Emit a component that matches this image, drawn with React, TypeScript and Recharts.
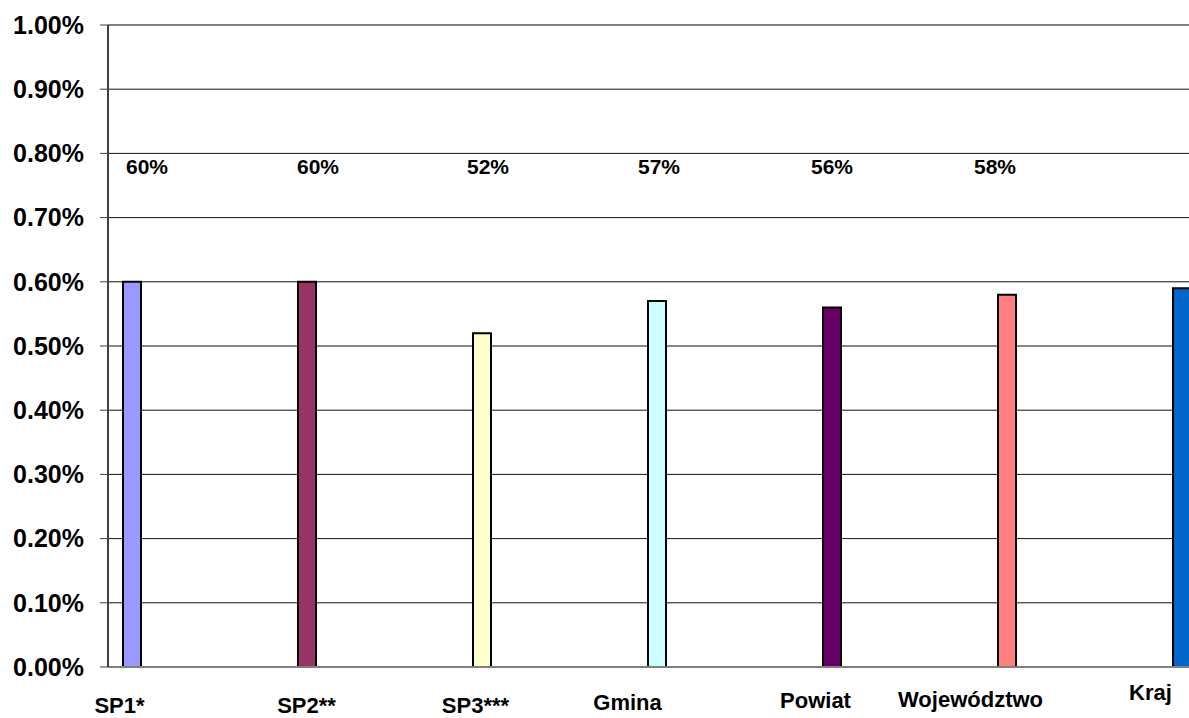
import React from "react";
import { BarChart, Bar, XAxis, YAxis, CartesianGrid, Cell, LabelList, ReferenceLine } from "recharts";

const categories = ["SP1*", "SP2**", "SP3***", "Gmina", "Powiat", "Województwo", "Kraj"];
const values = [0.6, 0.6, 0.52, 0.57, 0.56, 0.58, 0.59];
const dataLabels = ["60%", "60%", "52%", "57%", "56%", "58%", ""];
const yTicks = [0, 0.1, 0.2, 0.3, 0.4, 0.5, 0.6, 0.7, 0.8, 0.9, 1.0];

const colors = ["#9999FF", "#993366", "#FFFFCC", "#CCFFFF", "#660066", "#FF8080", "#0066CC"];

// Excel placed the category labels a bit unevenly; keep that look
const tickNudge = [
  { dx: -12, y: 713 },
  { dx: 0, y: 713 },
  { dx: -6, y: 713 },
  { dx: -29, y: 710 },
  { dx: -16, y: 708 },
  { dx: -36, y: 707 },
  { dx: -31, y: 700 },
];
const labelNudge = [15, 11, 6, 2, 0, -12, 0];

const font = "'Liberation Sans', Arial, sans-serif";

const data = categories.map((name, i) => ({ name, value: values[i], label: dataLabels[i] }));

const CategoryTick = (props: any) => {
  const { x, payload, index } = props;
  const n = tickNudge[index] || { dx: 0, y: 710 };
  return (
    <text x={x + n.dx} y={n.y} textAnchor="middle" fontFamily={font} fontWeight="bold" fontSize={22} fill="#000">
      {payload.value}
    </text>
  );
};

const TopLabel = (props: any) => {
  const { x, y, width, height, index } = props;
  const text = dataLabels[index];
  if (!text) return null;
  const base = y + height - 493;
  return (
    <text
      x={x + width / 2 + (labelNudge[index] || 0)}
      y={base}
      textAnchor="middle"
      fontFamily={font}
      fontWeight="bold"
      fontSize={21}
      fill="#000"
    >
      {text}
    </text>
  );
};

export default function App() {
  return (
    <div style={{ position: "absolute", left: 0, top: 0, width: 1189, height: 718, overflow: "hidden", background: "#fff" }}>
      <BarChart
        width={1273}
        height={718}
        data={data}
        margin={{ top: 25, right: 4, left: 0, bottom: 0 }}
        barSize={18}
      >
        <CartesianGrid vertical={false} stroke="#111" strokeWidth={1} />
        <XAxis
          dataKey="name"
          height={51}
          padding={{ left: -64, right: 0 }}
          tickLine={false}
          axisLine={{ stroke: "#808080", strokeWidth: 2 }}
          tick={<CategoryTick />}
          interval={0}
        />
        <YAxis
          width={108}
          domain={[0, 1]}
          ticks={yTicks}
          tickSize={8}
          tickMargin={16}
          tickLine={{ stroke: "#404040" }}
          axisLine={{ stroke: "#404040", strokeWidth: 2 }}
          tickFormatter={(v: number) => v.toFixed(2) + "%"}
          tick={{ fontFamily: font, fontWeight: "bold", fontSize: 25, fill: "#000" }}
        />
        <ReferenceLine y={1} stroke="#808080" strokeWidth={2} />
        <Bar dataKey="value" stroke="#000" strokeWidth={2} isAnimationActive={false}>
          {data.map((d, i) => (
            <Cell key={d.name} fill={colors[i]} />
          ))}
          <LabelList dataKey="label" content={<TopLabel />} />
        </Bar>
      </BarChart>
    </div>
  );
}
